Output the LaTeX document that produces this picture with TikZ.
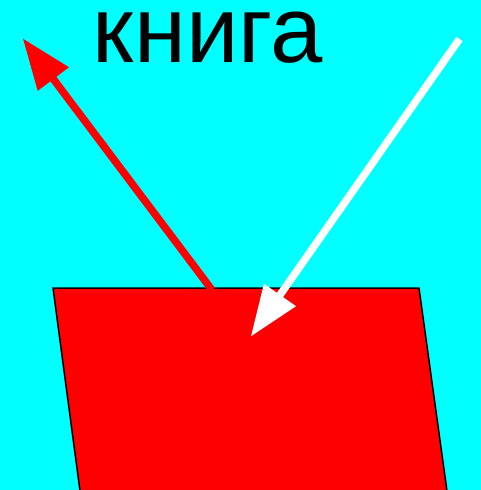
\documentclass[tikz,border=0pt]{standalone}
\usepackage{fontspec}
\setmainfont{Liberation Sans}
\usetikzlibrary{arrows.meta}
\definecolor{bgcyan}{RGB}{0,255,255}
\definecolor{bookred}{RGB}{255,0,0}
\begin{document}
\begin{tikzpicture}[x=1pt,y=-1pt,
  ray/.style={line width=7.5pt,-{Triangle[length=51pt,width=37pt]}},
  book/.style={fill=bookred,draw=black,line width=1.5pt}]
\fill[bgcyan] (0,0) rectangle (481,490);
\useasboundingbox (0,0) rectangle (481,490);
\draw[book] (53,288) -- (419,288) -- (447,491) -- (80,491) -- cycle;
\coordinate (rstart) at (212,290);
\coordinate (rtip) at (22.7,38.3);
\coordinate (wstart) at (459.5,39);
\coordinate (wtip) at (250.7,336.7);
\draw[ray,bookred] (rstart) -- (rtip);
\draw[ray,white] (wstart) -- (wtip);
\node[anchor=base,inner sep=0pt,font=\fontsize{94}{100}\selectfont] (title) at (208,62) {книга};
\end{tikzpicture}
\end{document}
